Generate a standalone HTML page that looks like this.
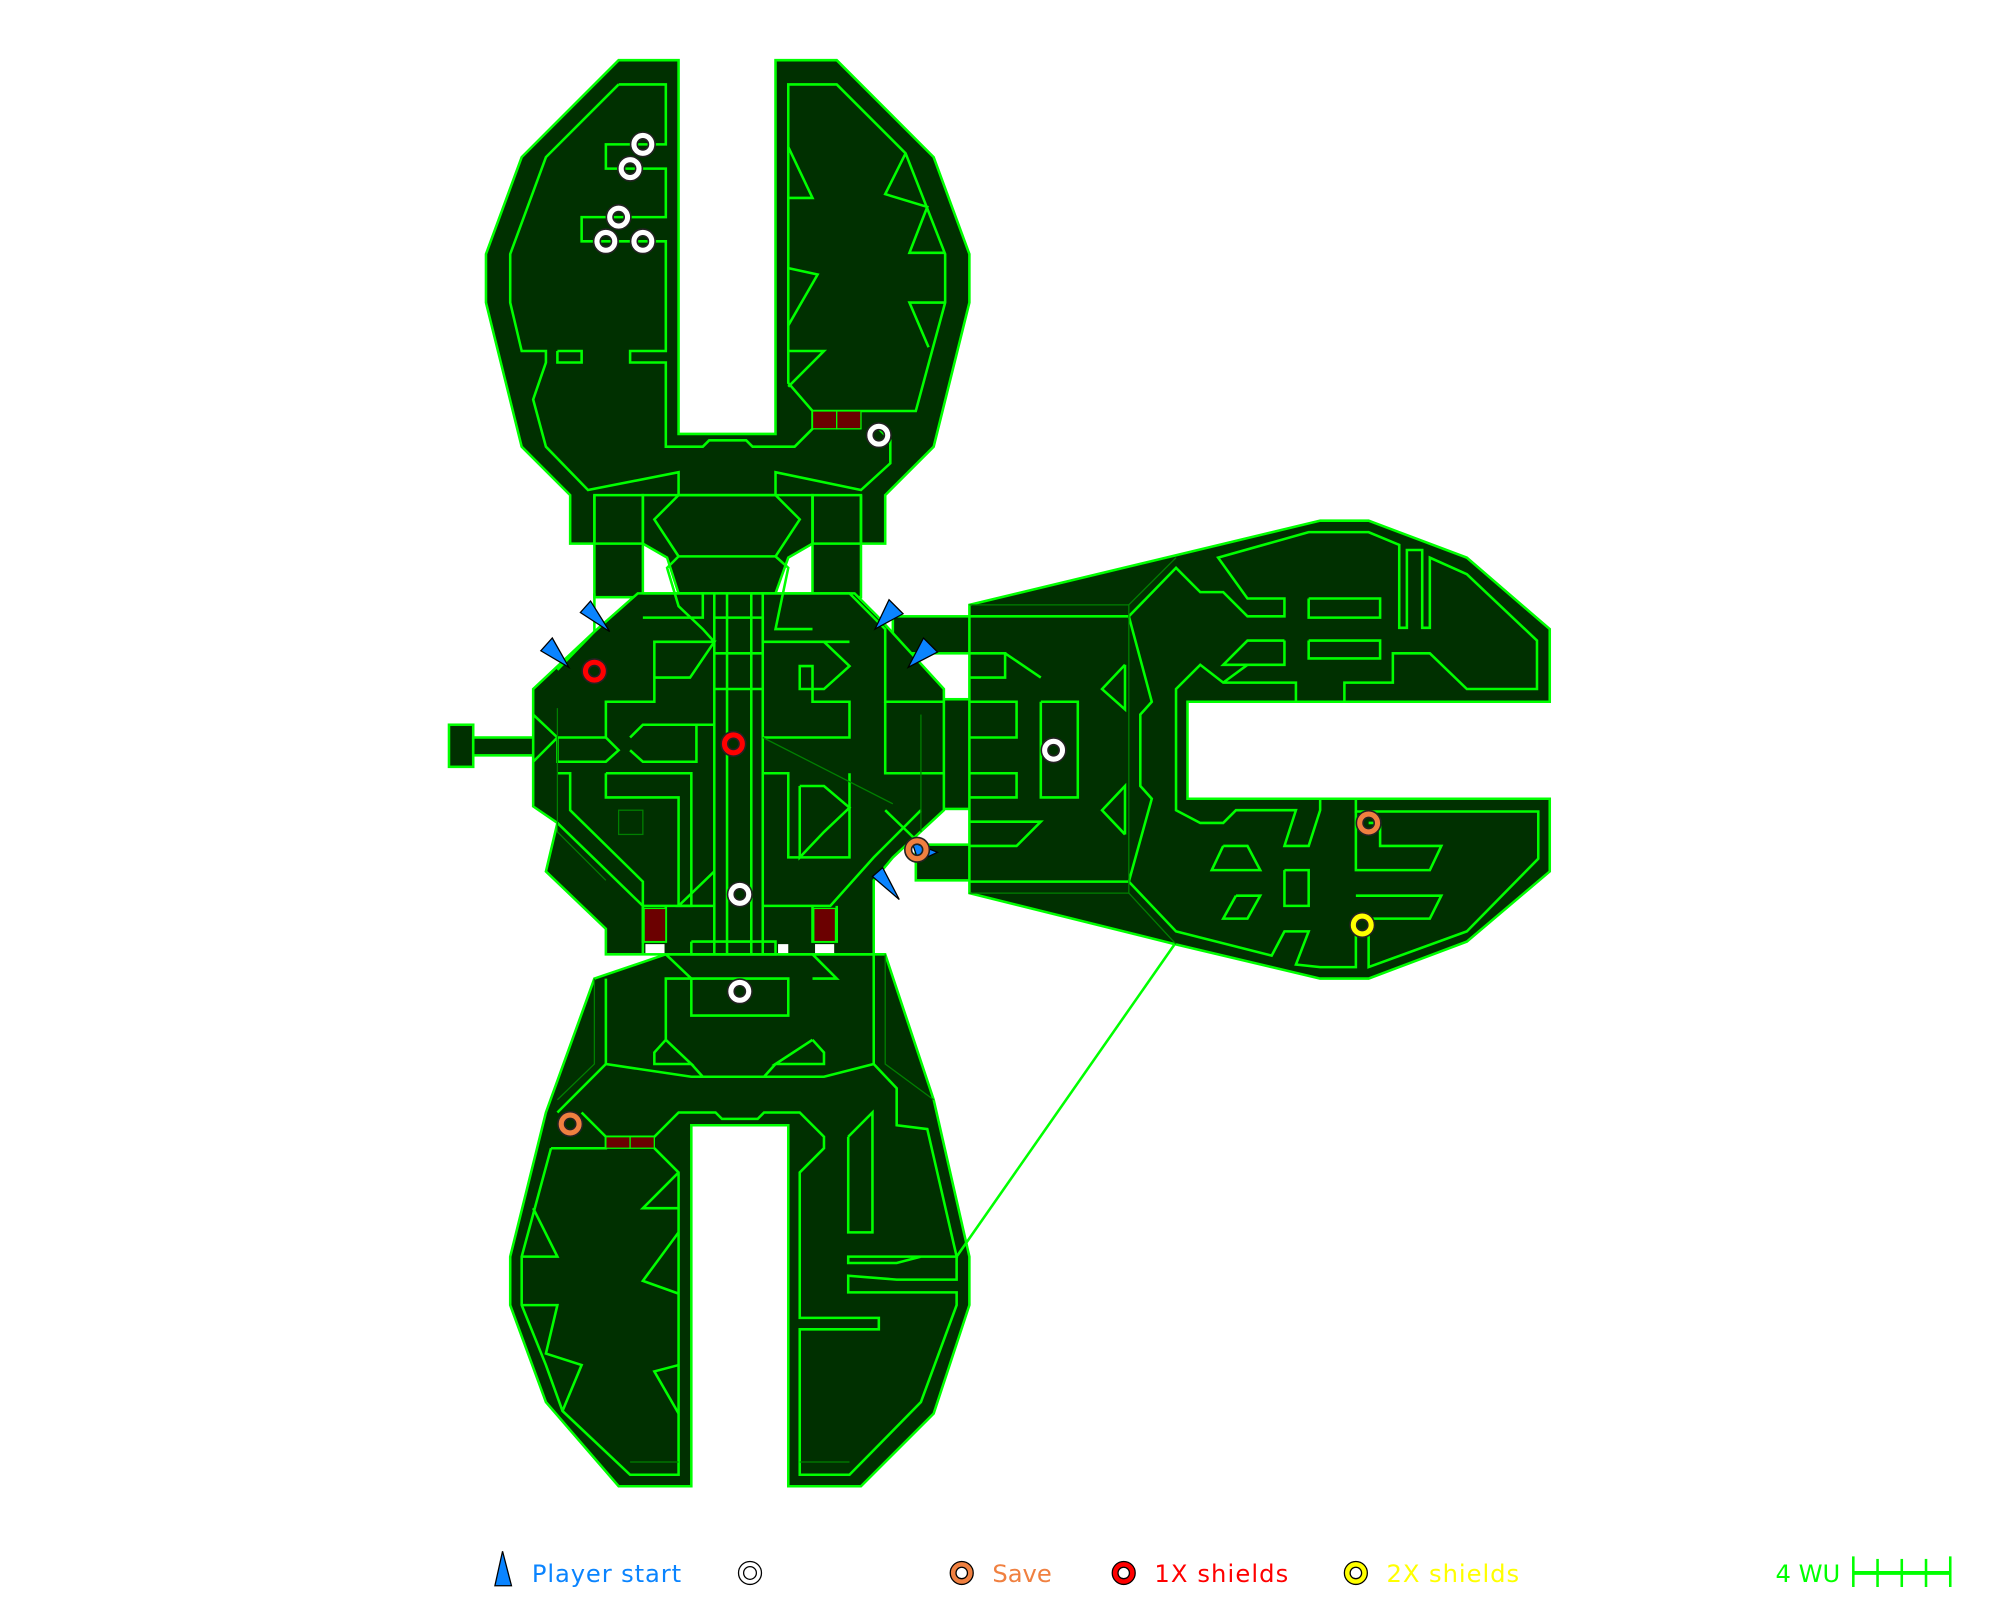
<!DOCTYPE html>
<html><head><meta charset="utf-8"><style>
html,body{margin:0;padding:0;background:#fff;width:2000px;height:1600px;overflow:hidden}
svg{display:block}
</style></head><body>
<svg width="2000" height="1600" viewBox="0 0 1568 1254" xmlns="http://www.w3.org/2000/svg">
<g fill="#003000" stroke="#00ff00" stroke-width="2" stroke-linejoin="miter">
<polygon points="485,47 532,47 532,340 608,340 608,47 656,47 732,123 760,199 760,237 732,350 694,388 694,426 447,426 447,388 409,350 381,237 381,199 409,123"/>
<rect x="466" y="388" width="38" height="80"/>
<rect x="637" y="388" width="38" height="80"/>
<polygon points="504,388 637,388 637,426 618,437 608,465 532,465 523,437 504,426"/>
<rect x="352" y="568" width="19" height="33"/>
<rect x="371" y="578" width="52" height="14"/>
<rect x="700" y="483" width="62" height="29"/>
<rect x="718" y="662" width="44" height="28"/>
<rect x="738" y="548" width="24" height="86"/>
<polygon points="760,474 1035,408 1073,408 1150,437 1215,493 1215,550 931,550 931,626 1215,626 1215,683 1150,738 1073,767 1035,767 921,740 760,700"/>
<polygon points="466,767 522,748 694,748 732,862 760,985 760,1023 732,1108 675,1165 618,1165 618,882 542,882 542,1165 485,1165 428,1099 400,1023 400,985 428,872"/>
<polygon points="500,465 670,465 688,483 740,540 740,635 700,672 685,690 685,748 475,748 475,728 428,683 437,645 418,632 418,540 466,495"/>
</g>
<g fill="#fff"><rect x="506" y="740" width="15" height="7"/><rect x="639" y="740" width="15" height="7"/><rect x="610" y="740" width="8" height="7"/></g>
<g fill="none" stroke="#00ff00" stroke-width="2">
<polyline points="485,66 522,66 522,113 475,113 475,132 522,132 522,170 456,170 456,189 522,189 522,275 494,275 494,284 522,284 522,350 551,350 556,345 585,345 590,350 623,350 637,336 637,322 718,322 741,237 741,199 710,120 665,75 656,66 618,66 618,300 637,322"/>
<polyline points="485,66 428,123 400,199 400,237 409,275 428,275 428,284 418,313 428,350 461,384 532,370 532,388 608,388 608,370 675,384 698,363 698,345 689,336"/>
<polyline points="437,275 456,275 456,284 437,284 437,275"/>
<polyline points="618,115 637,155 618,155"/>
<polyline points="618,210 641,215 618,255"/>
<polyline points="618,275 646,275 618,303"/>
<polyline points="710,120 694,152 727,162 713,198 741,198"/>
<polyline points="741,237 713,237 728,272"/>
<polyline points="466,388 466,426 504,426 504,388"/>
<polyline points="637,388 637,426 675,426 675,388"/>
<polyline points="532,388 513,407 532,436 523,445 532,475 551,493 560,503"/>
<polyline points="608,388 627,407 608,436 618,445 608,493 637,493"/>
<polyline points="532,436 608,436"/>
<polyline points="466,465 466,495 437,525"/>
<polyline points="504,465 551,465 551,484 504,484"/>
<polyline points="590,465 666,465 694,493 694,550 740,550"/>
<polyline points="513,531 513,503 560,503 541,531 513,531 513,550 475,550 475,578 485,588 475,597 437,597 437,578 475,578"/>
<polyline points="494,578 504,568 546,568 546,597 504,597 494,588"/>
<polyline points="475,606 475,625 532,625 532,710"/>
<polyline points="437,606 447,606 447,635 504,691 504,710 542,710 542,606 475,606"/>
<polyline points="418,560 437,578 418,597"/>
<polyline points="437,645 504,710"/>
<polyline points="560,465 560,748"/>
<polyline points="570,465 570,748"/>
<polyline points="589,465 589,748"/>
<polyline points="598,465 598,748"/>
<polyline points="560,484 598,484 598,503 666,503"/>
<polyline points="560,512 598,512"/>
<polyline points="560,540 598,540"/>
<polyline points="513,568 560,568"/>
<polyline points="598,578 666,578 666,550 637,550 637,522 627,522 627,540 646,540 666,522 646,503"/>
<polyline points="598,606 618,606 618,672 666,672 666,606"/>
<polyline points="627,616 627,672 646,652 666,633 646,616 627,616"/>
<polyline points="694,550 694,606 740,606"/>
<polyline points="694,635 722,662"/>
<polyline points="722,635 685,672 651,710 598,710"/>
<polyline points="560,710 532,710 560,683"/>
<polyline points="504,710 504,748"/>
<polyline points="522,710 522,738 504,738 504,710"/>
<polyline points="637,710 637,738 656,738 656,710"/>
<polyline points="542,738 608,738 608,748 542,748 542,738"/>
<polyline points="760,483 885,483 903,550 894,560 894,616 903,626 885,691 760,691"/>
<polyline points="760,512 788,512 788,531 760,531"/>
<polyline points="788,512 816,531"/>
<polyline points="760,550 797,550 797,578 760,578"/>
<polyline points="760,606 797,606 797,625 760,625"/>
<polyline points="760,644 816,644 797,663 760,663"/>
<polyline points="816,550 845,550 845,625 816,625 816,550"/>
<polyline points="882,521 882,556 864,540 882,521"/>
<polyline points="882,654 882,616 864,635 882,654"/>
<polyline points="885,483 922,445 941,464 959,464 978,483 1007,483 1007,469 978,469 955,437 1026,417 1073,417 1097,427 1097,492 1103,492 1103,431 1115,431 1115,492 1121,492 1121,437 1150,450 1205,502 1205,540 1150,540 1121,512 1092,512 1092,535 1054,535 1054,550"/>
<polyline points="1026,469 1082,469 1082,484 1026,484 1026,469"/>
<polyline points="1026,502 1082,502 1082,516 1026,516 1026,502"/>
<polyline points="1007,502 978,502 959,521 1007,521 1007,502"/>
<polyline points="1016,550 1016,535 959,535 941,521 922,540 922,635 941,645 959,645 969,635 1016,635 1007,663 1026,663 1035,635 1035,626"/>
<polyline points="959,535 978,521"/>
<polyline points="1063,626 1063,636 1206,636 1206,673 1150,730 1073,758 1073,720"/>
<polyline points="1073,645 1082,645 1082,663 1130,663 1121,682 1063,682 1063,636"/>
<polyline points="1063,702 1130,702 1121,720 1073,720"/>
<polyline points="959,663 978,663 988,682 950,682 959,663"/>
<polyline points="1007,682 1026,682 1026,710 1007,710 1007,682"/>
<polyline points="969,702 988,702 978,720 959,720 969,702"/>
<polyline points="885,691 922,730 997,749 1007,730 1026,730 1016,756 1035,758 1063,758 1063,720"/>
<polyline points="522,748 542,767 522,767 522,815 513,825 513,834 542,834 522,815"/>
<polyline points="637,748 656,767 637,767"/>
<polyline points="637,815 646,825 646,834 608,834 637,815"/>
<polyline points="542,767 618,767 618,796 542,796 542,767"/>
<polyline points="685,748 685,834 646,844 542,844 475,834 475,767"/>
<polyline points="475,834 437,872"/>
<polyline points="542,834 551,844"/>
<polyline points="608,834 599,844"/>
<polyline points="685,834 703,853 703,882 727,885 750,985 665,985 665,990 703,990 722,985 750,985 750,1003 703,1003 665,1000 665,1013 750,1013 750,1023 722,1099 666,1156 627,1156 627,1042 689,1042 689,1033 627,1033 627,919 646,900 646,891 627,872 599,872 594,877 566,877 561,872 532,872 513,891 475,891 475,900 432,900"/>
<polyline points="432,900 409,985 409,1023 428,1070 441,1106 494,1156 532,1156 532,919 513,900"/>
<polyline points="665,891 684,872 684,966 665,966 665,891"/>
<polyline points="409,985 437,985 418,947"/>
<polyline points="409,1023 437,1023 428,1061 456,1070 441,1106"/>
<polyline points="532,919 504,947 532,947"/>
<polyline points="532,966 504,1004 532,1014"/>
<polyline points="532,1070 513,1075 532,1108"/>
<polyline points="456,872 475,891"/>
<polyline points="750,985 921,740"/>
</g>
<g stroke="#008000" stroke-width="1" fill="none">
<polyline points="885,474 922,437"/><polyline points="885,700 922,740"/>
<polyline points="760,474 885,474 885,700 760,700"/>
<polyline points="437,555 437,652 475,690"/>
<rect x="485" y="635" width="19" height="19"/>
<polyline points="598,578 700,630"/>
<polyline points="722,560 722,652"/>
<polyline points="466,767 466,834 437,862"/><polyline points="694,748 694,834 732,862"/>
<polyline points="494,1146 532,1146"/><polyline points="627,1146 666,1146"/>
</g>
<g fill="#6b0000" stroke="#00ff00" stroke-width="1">
<rect x="637" y="322" width="19" height="14"/><rect x="656" y="322" width="19" height="14"/>
<rect x="505" y="712" width="17" height="26"/><rect x="638" y="712" width="17" height="26"/>
<rect x="475" y="891" width="19" height="9"/><rect x="494" y="891" width="19" height="9"/>
</g>
<g fill="#0a84ff" stroke="#000" stroke-width="1">
<polygon points="455,480 463,471 478,495"/>
<polygon points="424,510 433,500 446,523"/>
<polygon points="697,470 708,481 686,493"/>
<polygon points="724,500 735,511 712,523"/>
<polygon points="684,687 692,680 705,705"/>
<polygon points="715,660 735,668 720,675"/>
</g>
<g stroke-width="6.5" fill="none">
<g stroke="#222">
<circle cx="504" cy="113" r="7"/><circle cx="494" cy="132" r="7"/><circle cx="485" cy="170" r="7"/><circle cx="475" cy="189" r="7"/><circle cx="504" cy="189" r="7"/><circle cx="689" cy="341" r="7"/><circle cx="826" cy="588" r="7"/><circle cx="580" cy="701" r="7"/><circle cx="580" cy="777" r="7"/><circle cx="466" cy="526" r="7"/><circle cx="575" cy="583" r="7"/><circle cx="719" cy="666" r="7"/><circle cx="1073" cy="645" r="7"/><circle cx="447" cy="881" r="7"/><circle cx="1068" cy="725" r="7"/>
</g>
</g>
<g stroke-width="4" fill="none">
<circle cx="504" cy="113" r="7" stroke="#fff"/><circle cx="494" cy="132" r="7" stroke="#fff"/>
<circle cx="485" cy="170" r="7" stroke="#fff"/><circle cx="475" cy="189" r="7" stroke="#fff"/>
<circle cx="504" cy="189" r="7" stroke="#fff"/><circle cx="689" cy="341" r="7" stroke="#fff"/>
<circle cx="826" cy="588" r="7" stroke="#fff"/><circle cx="580" cy="701" r="7" stroke="#fff"/>
<circle cx="580" cy="777" r="7" stroke="#fff"/>
<circle cx="466" cy="526" r="7" stroke="#f00"/><circle cx="575" cy="583" r="7" stroke="#f00"/>
<circle cx="719" cy="666" r="7" stroke="#f08040"/><circle cx="1073" cy="645" r="7" stroke="#f08040"/>
<circle cx="447" cy="881" r="7" stroke="#f08040"/><circle cx="1068" cy="725" r="7" stroke="#ff0"/>
</g>
<polygon points="394,1216 388,1243 401,1243" fill="#0a84ff" stroke="#000" stroke-width="1"/>
<g font-family="DejaVu Sans, sans-serif" font-size="19">
<text x="417" y="1240" fill="#0a84ff" textLength="117">Player start</text>
<text x="778" y="1240" fill="#f08040">Save</text>
<text x="905" y="1240" fill="#f00" textLength="105">1X shields</text>
<text x="1087" y="1240" fill="#ff0" textLength="104">2X shields</text>
<text x="1392" y="1240" fill="#00ff00">4 WU</text>
</g>
<circle cx="588" cy="1233" r="9" fill="#fff" stroke="#000" stroke-width="1"/><circle cx="588" cy="1233" r="5" fill="none" stroke="#000" stroke-width="1"/>
<circle cx="754" cy="1233" r="9" fill="#f08040" stroke="#000" stroke-width="1"/><circle cx="754" cy="1233" r="4.5" fill="#fff" stroke="#000" stroke-width="1"/>
<circle cx="881" cy="1233" r="9" fill="#f00" stroke="#000" stroke-width="1"/><circle cx="881" cy="1233" r="4.5" fill="#fff" stroke="#000" stroke-width="1"/>
<circle cx="1063" cy="1233" r="9" fill="#ff0" stroke="#000" stroke-width="1"/><circle cx="1063" cy="1233" r="4.5" fill="#fff" stroke="#000" stroke-width="1"/>
<g stroke="#00ff00" stroke-width="2"><line x1="1453" y1="1233" x2="1529" y2="1233" stroke-width="3"/>
<line x1="1453" y1="1220" x2="1453" y2="1244"/><line x1="1472" y1="1222" x2="1472" y2="1244"/><line x1="1491" y1="1222" x2="1491" y2="1244"/><line x1="1510" y1="1222" x2="1510" y2="1244"/><line x1="1529" y1="1220" x2="1529" y2="1244"/></g>
</svg>
</body></html>
